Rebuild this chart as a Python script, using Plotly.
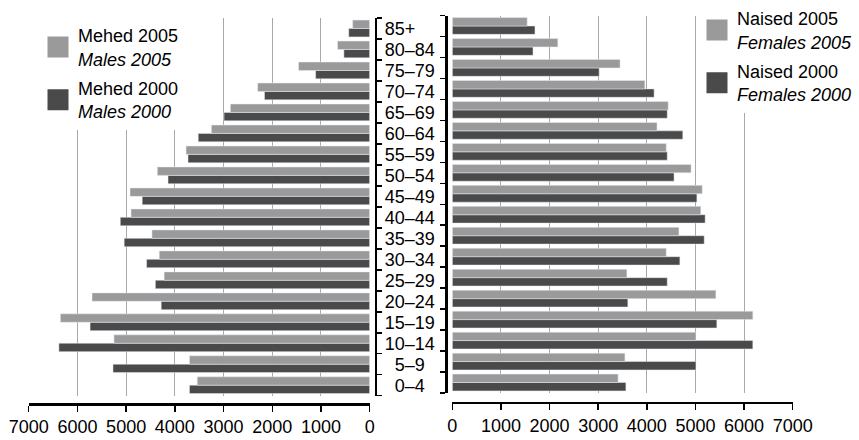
import plotly.graph_objects as go

# ---------------- data ----------------
age_groups = ["0–4", "5–9", "10–14", "15–19", "20–24", "25–29", "30–34", "35–39",
              "40–44", "45–49", "50–54", "55–59", "60–64", "65–69", "70–74",
              "75–79", "80–84", "85+"]
males_2005 = [3540, 3700, 5250, 6350, 5700, 4220, 4320, 4470, 4900, 4920,
              4360, 3770, 3250, 2860, 2300, 1460, 660, 350]
males_2000 = [3700, 5270, 6380, 5740, 4280, 4400, 4580, 5040, 5120, 4670,
              4140, 3730, 3520, 2990, 2160, 1110, 530, 430]
females_2005 = [3410, 3550, 5010, 6180, 5420, 3590, 4400, 4660, 5110, 5140,
                4910, 4400, 4210, 4440, 3960, 3450, 2170, 1540]
females_2000 = [3570, 5010, 6180, 5440, 3610, 4420, 4680, 5180, 5200, 5030,
                4560, 4420, 4740, 4420, 4150, 3020, 1660, 1700]
x_ticks = [0, 1000, 2000, 3000, 4000, 5000, 6000, 7000]
grid_vals = [1000, 2000, 3000, 4000, 5000, 6000, 7000]
legend_names = {
    "m2005": "Mehed 2005<br><i>Males 2005</i>",
    "m2000": "Mehed 2000<br><i>Males 2000</i>",
    "f2005": "Naised 2005<br><i>Females 2005</i>",
    "f2000": "Naised 2000<br><i>Females 2000</i>",
}

# ---------------- style ----------------
W, H = 859, 440
LIGHT = "#9a9a9a"
DARK = "#4a4a4a"
GRID = "#a9a9a9"
FONT = "Liberation Sans, Arial, Helvetica, sans-serif"

fig = go.Figure()

# bars (first trace sits at the bottom of each group)
fig.add_trace(go.Bar(x=males_2000, y=age_groups, orientation="h", marker_color=DARK,
                     xaxis="x", yaxis="y", showlegend=False, name="Males 2000"))
fig.add_trace(go.Bar(x=males_2005, y=age_groups, orientation="h", marker_color=LIGHT,
                     xaxis="x", yaxis="y", showlegend=False, name="Males 2005"))
fig.add_trace(go.Bar(x=females_2000, y=age_groups, orientation="h", marker_color=DARK,
                     xaxis="x2", yaxis="y2", showlegend=False, name="Females 2000"))
fig.add_trace(go.Bar(x=females_2005, y=age_groups, orientation="h", marker_color=LIGHT,
                     xaxis="x2", yaxis="y2", showlegend=False, name="Females 2005"))

# legend-only entries (large square swatches)
def legend_entry(name, color, legend, group, xa, ya):
    return go.Scatter(x=[None], y=[None], mode="markers", name=name,
                      marker=dict(symbol="square", size=18, color=color,
                                  line=dict(color=color, width=5)),
                      legend=legend, legendgroup=group, xaxis=xa, yaxis=ya,
                      hoverinfo="skip")

fig.add_trace(legend_entry(legend_names["m2005"], LIGHT, "legend", "a", "x", "y"))
fig.add_trace(legend_entry(legend_names["m2000"], DARK, "legend", "b", "x", "y"))
fig.add_trace(legend_entry(legend_names["f2005"], LIGHT, "legend2", "c", "x2", "y2"))
fig.add_trace(legend_entry(legend_names["f2000"], DARK, "legend2", "d", "x2", "y2"))

common_x = dict(
    tickmode="array", tickvals=x_ticks, ticks="outside", ticklen=6, tickwidth=1.5,
    tickcolor="black", showline=True, linewidth=2.5, linecolor="black",
    showgrid=False, zeroline=False, anchor="free", fixedrange=True, automargin=False,
    tickfont=dict(size=18, color="black", family=FONT),
    minor=dict(tickmode="array", tickvals=grid_vals, showgrid=True,
               gridcolor=GRID, gridwidth=1, ticks=""),
)
common_y = dict(
    type="category", categoryorder="array", categoryarray=age_groups,
    range=[-0.5, len(age_groups) - 0.5], anchor="free", automargin=False,
    showline=True, linewidth=2.5, linecolor="black",
    ticks="outside", tickson="boundaries", ticklen=5, tickwidth=1.5, tickcolor="black",
    tickmode="linear", tick0=0, dtick=1, showgrid=False, zeroline=False,
    tickfont=dict(size=18, color="black", family=FONT), fixedrange=True,
)

fig.update_layout(
    width=W, height=H,
    margin=dict(l=0, r=0, t=0, b=0, pad=0, autoexpand=False),
    paper_bgcolor="white", plot_bgcolor="white",
    font=dict(family=FONT, size=18, color="black"),
    barmode="group", bargap=0.2, bargroupgap=0,
    hovermode=False,
    xaxis=dict(common_x, domain=[28.7 / W, 369.7 / W], range=[7000, 0],
               position=1 - 404 / H),
    xaxis2=dict(common_x, domain=[452.3 / W, 792.7 / W], range=[0, 7000],
                position=1 - 402.7 / H),
    yaxis=dict(common_y, domain=[1 - 395.7 / H, 1 - 18 / H], position=375.7 / W,
               side="right", showticklabels=True, ticklabelstandoff=4,
               labelalias={"5–9": "\u00a0\u00a05–9", "0–4": "\u00a0\u00a00–4"}),
    yaxis2=dict(common_y, domain=[1 - 393 / H, 1 - 15.5 / H], position=446 / W,
                side="left", showticklabels=False),
    legend=dict(x=38 / W, y=1 - 17 / H, xanchor="left", yanchor="top",
                bgcolor="white", borderwidth=0, font=dict(size=18, family=FONT),
                traceorder="grouped", tracegroupgap=3),
    legend2=dict(x=697 / W, y=1, xanchor="left", yanchor="top",
                 bgcolor="white", borderwidth=0, font=dict(size=18, family=FONT),
                 traceorder="grouped", tracegroupgap=3),
    showlegend=True,
)

fig.write_html("out.html",
               config={"displayModeBar": False, "staticPlot": True},
               post_script="document.body.style.margin='0';document.body.style.overflow='hidden';")
